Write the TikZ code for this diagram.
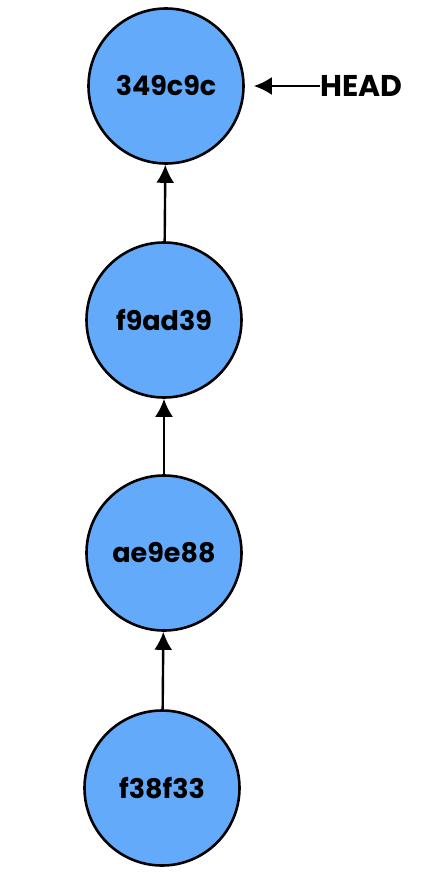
\documentclass[tikz,border=0pt]{standalone}
\usepackage{fontspec}
\setmainfont{Poppins}
\usetikzlibrary{arrows.meta}
\definecolor{commitblue}{RGB}{100,170,250}
\tikzset{
	commit/.style={circle, draw=black, line width=2.6pt, fill=commitblue, minimum size=155pt, inner sep=0pt, font=\fontsize{27}{29}\selectfont\bfseries},
	ref/.style={inner sep=0pt, font=\fontsize{30}{32}\selectfont\bfseries},
	link/.style={line width=2.4pt, -{Latex[length=18pt,width=18pt]}}
}
\begin{document}
\begin{tikzpicture}[x=1pt,y=1pt]
		\useasboundingbox (0,0) rectangle (424,-872);
		% Commit
		\node [commit] (c1) at (166,-86) {349c9c};
		\node [commit] (c2) at (164,-320) {f9ad39};
		\node [commit] (c3) at (164,-553) {ae9e88};
		\node [commit] (c4) at (162,-788) {f38f33};
		% Genitori
		\draw [link] (c2) -- (c1);
		\draw [link] (c3) -- (c2);
		\draw [link] (c4) -- (c3);
		% Riferimento
		\node [ref, anchor=west] (head) at (320,-86) {HEAD};
		\draw [link, shorten >=9pt] (head.west) -- (c1.east);
	\end{tikzpicture}
\end{document}
